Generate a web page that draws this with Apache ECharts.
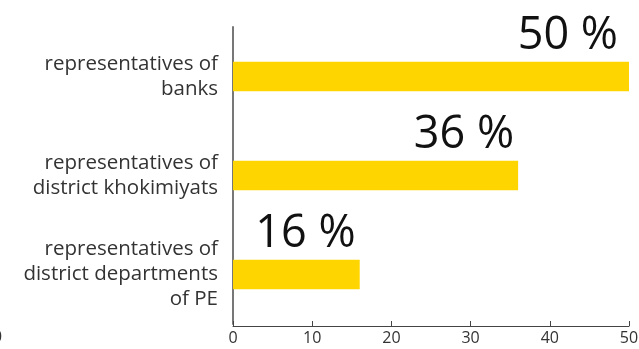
<!DOCTYPE html>
<html>
<head>
<meta charset="utf-8">
<script src="https://cdn.jsdelivr.net/npm/echarts@6/dist/echarts.min.js"></script>
<style>html,body{margin:0;padding:0;background:#fff}#c{width:639px;height:349px}</style>
</head>
<body>
<div id="c"></div>
<script>
const categories = [
  "representatives of\nbanks",
  "representatives of\ndistrict khokimiyats",
  "representatives of\ndistrict departments\nof PE"
];
const values = [50, 36, 16];
const xTicks = [0, 10, 20, 30, 40, 50];

const chart = echarts.init(document.getElementById('c'), null, {renderer: 'canvas'});
const font = '"Open Sans", sans-serif';
const seriesData = values.map((v, i) => i === 0 ? {value: v, label: {offset: [-11, -3]}} : v);
chart.setOption({
  animation: false,
  grid: {left: 233, right: 10, top: 27, bottom: 25, containLabel: false, outerBoundsMode: 'none'},
  xAxis: {
    type: 'value', min: xTicks[0], max: xTicks[xTicks.length - 1], interval: 10, offset: 2,
    axisLine: {show: true, lineStyle: {color: '#444', width: 1}},
    axisTick: {show: true, inside: true, length: 5, lineStyle: {color: '#444'}},
    splitLine: {show: false},
    axisLabel: {color: '#333', fontSize: 16, fontFamily: font, margin: 4}
  },
  yAxis: {
    type: 'category', data: categories, inverse: true,
    axisLine: {show: true, lineStyle: {color: '#777', width: 2}},
    axisTick: {show: false},
    axisLabel: {color: '#333', fontSize: 20.5, fontFamily: font, lineHeight: 25, margin: 15, align: 'right'}
  },
  series: [{
    type: 'bar', data: seriesData, barWidth: '30%',
    itemStyle: {color: '#FFD500'},
    label: {
      show: true, position: ['100%', 0], align: 'right', verticalAlign: 'bottom',
      offset: [-4, -3], formatter: '{c} %', color: '#111', fontSize: 45, fontFamily: font
    }
  }],
  graphic: [{type: 'text', left: -7, top: 330, style: {text: '0', fontSize: 16, fill: '#333', font: '16px ' + font}}]
});
</script>
</body>
</html>
